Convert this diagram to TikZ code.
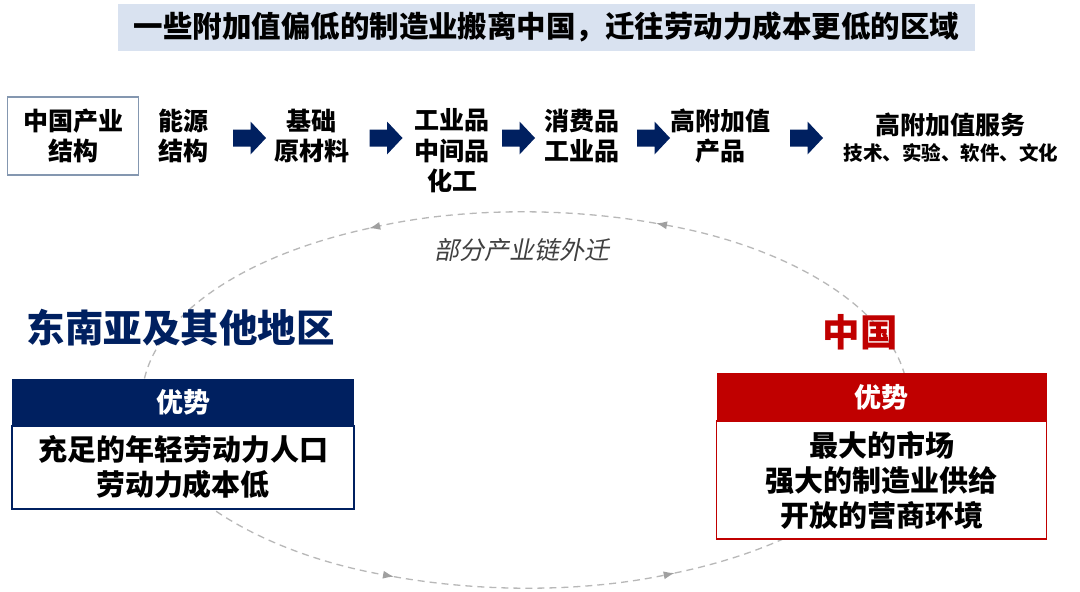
\documentclass[tikz,border=0pt]{standalone}
\usepackage{fontspec}
\setmainfont{Noto Sans CJK SC}
\newfontfamily\cjkit{Noto Sans CJK SC}[FakeSlant=0.2]
\usetikzlibrary{arrows.meta}
\definecolor{navy}{HTML}{002060}
\definecolor{cnred}{HTML}{C00000}
\definecolor{bannerbg}{HTML}{D9E2F0}
\definecolor{boxline}{HTML}{8497B0}
\definecolor{cycgray}{HTML}{B8B8B8}
\definecolor{tipgray}{HTML}{A0A0A0}
\definecolor{labelgray}{HTML}{404040}
\tikzset{
  rowtext/.style={align=center, inner sep=0pt, font=\fontsize{25}{30.5}\selectfont\bfseries},
  blockarr/.pic={\fill[navy] (-16.5,-8.5) -- (1,-8.5) -- (1,-16.5) -- (16.5,0) -- (1,16.5) -- (1,8.5) -- (-16.5,8.5) -- cycle;},
  cyclepath/.style={draw=cycgray, line width=1.3pt, dash pattern=on 7pt off 5pt,
    -{Latex[length=11pt,width=8pt,color=tipgray]}},
  hdr/.style={inner sep=0pt, text=white, font=\fontsize{27}{32}\selectfont\bfseries},
  bodybox/.style={fill=white, line width=1.4pt, align=center, inner sep=0pt,
    font=\fontsize{29}{35}\selectfont\bfseries},
}
\begin{document}
\begin{tikzpicture}[x=1pt,y=1pt]
\useasboundingbox (0,0) rectangle (1080,-592);
\fill[white] (0,0) rectangle (1080,-592);

% dashed cycle
\draw[cyclepath] ([shift={(525,-400)}]-67:383pt and 188pt) arc[start angle=-67, end angle=70, x radius=383pt, y radius=188pt];
\draw[cyclepath] ([shift={(525,-400)}]70:383pt and 188pt) arc[start angle=70, end angle=114, x radius=383pt, y radius=188pt];
\draw[cyclepath] ([shift={(525,-400)}]114:383pt and 188pt) arc[start angle=114, end angle=250, x radius=383pt, y radius=188pt];
\draw[cyclepath] ([shift={(525,-400)}]250:383pt and 188pt) arc[start angle=250, end angle=293, x radius=383pt, y radius=188pt];

% title banner
\node[fill=bannerbg, minimum width=857pt, minimum height=47pt, inner sep=0pt,
  font=\fontsize{29.5}{34}\selectfont\bfseries] (title) at (546.5,-27)
  {一些附加值偏低的制造业搬离中国，迁往劳动力成本更低的区域};

% industry chain row
\node[rowtext, draw=boxline, line width=1.2pt, minimum width=131pt, minimum height=78pt] (n0) at (73.3,-136) {中国产业\\结构};
\node[rowtext] (n1) at (183,-136) {能源\\结构};
\pic (a1) at (249.5,-138) {blockarr};
\node[rowtext] (n2) at (311.5,-136) {基础\\原材料};
\pic (a2) at (386,-138) {blockarr};
\node[rowtext] (n3) at (452,-151) {工业品\\中间品\\化工};
\pic (a3) at (518.5,-138) {blockarr};
\node[rowtext] (n4) at (581.5,-136) {消费品\\工业品};
\pic (a4) at (653.5,-138) {blockarr};
\node[rowtext] (n5) at (720,-136) {高附加值\\产品};
\pic (a5) at (806.5,-138) {blockarr};
\node[rowtext] (n6) at (950,-125) {高附加值服务};
\node[inner sep=0pt, font=\fontsize{19.5}{23}\selectfont\bfseries] (n6b) at (951,-153) {技术、实验、软件、文化};

% migration label
\node[inner sep=0pt, text=labelgray, font=\fontsize{25}{30}\selectfont\cjkit] (mig) at (522,-250) {部分产业链外迁};

% Southeast Asia
\node[inner sep=0pt, text=navy, font=\fontsize{38.5}{44}\selectfont\bfseries] (se) at (181,-328) {东南亚及其他地区};
\node[hdr, fill=navy, minimum width=342pt, minimum height=48pt] (sehead) at (183,-402.5) {优势};
\node[bodybox, draw=navy, minimum width=342pt, minimum height=83pt] (sebody) at (183,-467.5) {充足的年轻劳动力人口\\劳动力成本低};

% China
\node[inner sep=0pt, text=cnred, font=\fontsize{37.5}{44}\selectfont\bfseries] (cn) at (860,-332) {中国};
\node[hdr, fill=cnred, minimum width=330pt, minimum height=48pt] (cnhead) at (881.7,-397) {优势};
\node[bodybox, draw=cnred, minimum width=330pt, minimum height=118pt] (cnbody) at (881.7,-480) {最大的市场\\强大的制造业供给\\开放的营商环境};
\end{tikzpicture}
\end{document}
